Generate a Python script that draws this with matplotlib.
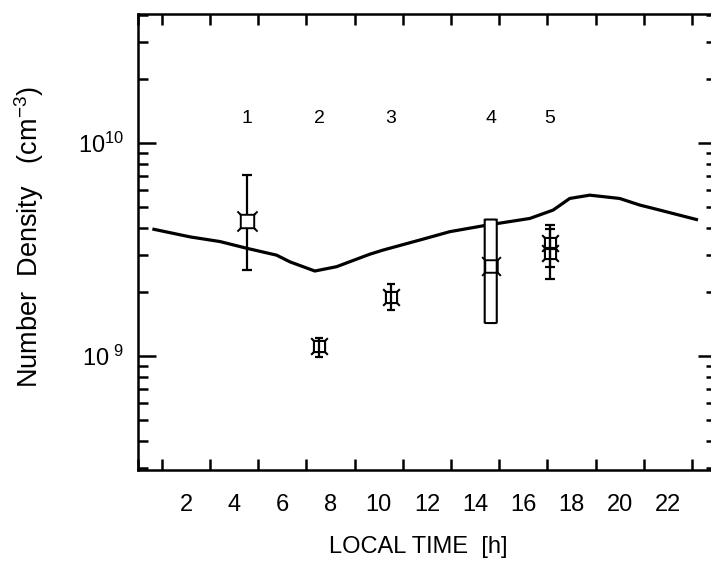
import matplotlib
matplotlib.use('Agg')
import matplotlib.pyplot as plt
from matplotlib.path import Path
from matplotlib.patches import FancyBboxPatch
from matplotlib.ticker import FixedLocator, LogLocator, NullFormatter

plt.rcParams['font.family'] = ['Liberation Sans', 'DejaVu Sans']
plt.rcParams['mathtext.fontset'] = 'custom'
plt.rcParams['mathtext.rm'] = 'Liberation Sans'
plt.rcParams['mathtext.it'] = 'Liberation Sans'

# Model curve
model_hour = [0.67, 2.17, 3.42, 4.52, 5.76, 6.32, 7.35, 8.25, 9.63, 10.19,
              11.71, 12.95, 14.48, 16.27, 17.24, 17.93, 18.76, 20.0, 20.84,
              21.39, 23.19]
model_density = [3.94e9, 3.63e9, 3.45e9, 3.21e9, 2.98e9, 2.77e9, 2.51e9,
                 2.63e9, 3.01e9, 3.15e9, 3.51e9, 3.84e9, 4.12e9, 4.43e9,
                 4.85e9, 5.50e9, 5.70e9, 5.50e9, 5.12e9, 4.94e9, 4.38e9]

# Measurements 1..5 (5 has two overlapping values)
meas_label = ['1', '2', '3', '4', '5']
meas_hour = [4.52, 7.53, 10.49, 14.65, 17.1]
bar_hour = [4.52, 7.53, 10.49, 17.1, 17.1]
bar_value = [4.32e9, 1.11e9, 1.90e9, 3.38e9, 3.06e9]
bar_low = [2.53e9, 0.987e9, 1.64e9, 2.30e9, 2.62e9]
bar_high = [7.08e9, 1.22e9, 2.17e9, 4.15e9, 3.95e9]
box_hour = 14.65
box_value = 2.65e9
box_low = 1.43e9
box_high = 4.38e9

# square with little flared corners
e = 1.5
sq_verts = [(-1, -1), (1, -1), (1, 1), (-1, 1), (-1, -1),
            (1, 1), (e, e), (-1, 1), (-e, e), (1, -1), (e, -e), (-1, -1), (-e, -e)]
sq_codes = [Path.MOVETO, Path.LINETO, Path.LINETO, Path.LINETO, Path.CLOSEPOLY] + \
           [Path.MOVETO, Path.LINETO] * 4
sq_marker = Path(sq_verts, sq_codes)

fig = plt.figure(figsize=(7.11, 5.76), dpi=100)
ax = fig.add_axes([0.1938, 0.184, 0.8132, 0.7917])

ax.plot(model_hour, model_density, color='black', lw=2.3, zorder=3)

# point 1: big open square covering the bar
ax.errorbar(bar_hour[0], bar_value[0],
            yerr=[[bar_value[0] - bar_low[0]], [bar_high[0] - bar_value[0]]],
            fmt='none', ecolor='black', elinewidth=1.6, capsize=3.8, capthick=1.6, zorder=4)
ax.plot(bar_hour[0], bar_value[0], marker=sq_marker, ms=14.5, mfc='white',
        mec='black', mew=1.4, ls='none', zorder=5)

# points 2, 3, 5
for i in [1, 2, 3, 4]:
    cap = 2.6 if i < 3 else 3.3
    ax.errorbar(bar_hour[i], bar_value[i],
                yerr=[[bar_value[i] - bar_low[i]], [bar_high[i] - bar_value[i]]],
                fmt='none', ecolor='black', elinewidth=1.6, capsize=cap, capthick=1.6, zorder=4)
    ax.plot(bar_hour[i], bar_value[i], marker=sq_marker, ms=12, mfc='none',
            mec='black', mew=1.5, ls='none', zorder=5)

# point 4: range box with marker
box = FancyBboxPatch((box_hour - 0.25, box_low), 0.5, box_high - box_low,
                     boxstyle='round,pad=0,rounding_size=0.08', fc='white',
                     ec='black', lw=1.5, zorder=4, mutation_aspect=1e8)
ax.add_patch(box)
ax.plot(box_hour, box_value, marker=sq_marker, ms=13.5, mfc='none',
        mec='black', mew=1.4, ls='none', zorder=5)

for h, lab in zip(meas_hour, meas_label):
    ax.text(h, 1.31e10, lab, ha='center', va='center', fontsize=14)

ax.set_yscale('log')
ax.set_xlim(0, 24)
ax.set_ylim(2.92e8, 4.04e10)

ax.xaxis.set_major_locator(FixedLocator(range(2, 24, 2)))
ax.xaxis.set_minor_locator(FixedLocator(range(0, 25)))
ax.set_xticklabels([str(h) for h in range(2, 24, 2)])
ax.yaxis.set_major_locator(FixedLocator([1e9, 1e10]))
ax.set_yticklabels([r'$10^{\ 9}$', r'$10^{10}$'])
ax.yaxis.set_minor_locator(LogLocator(base=10, subs=range(2, 10)))
ax.yaxis.set_minor_formatter(NullFormatter())

ax.tick_params(axis='both', which='both', direction='in', top=True, right=True,
               width=1.8, labelsize=17)
ax.tick_params(axis='x', which='major', length=0, pad=17)
ax.tick_params(axis='x', which='minor', length=8)
ax.tick_params(axis='y', which='major', length=13, pad=10)
ax.tick_params(axis='y', which='minor', length=7)
for s in ax.spines.values():
    s.set_linewidth(1.8)

ax.set_xlabel('LOCAL TIME  [h]', fontsize=17)
ax.xaxis.set_label_coords(0.4845, -0.169)
ax.xaxis.label.set_va('center')
ax.set_ylabel(r'Number  Density   (cm$^{-3}$)', fontsize=19.5)
ax.yaxis.set_label_coords(-0.188, 0.51)
ax.yaxis.label.set_va('center')

fig.savefig('out.png', dpi=100)
